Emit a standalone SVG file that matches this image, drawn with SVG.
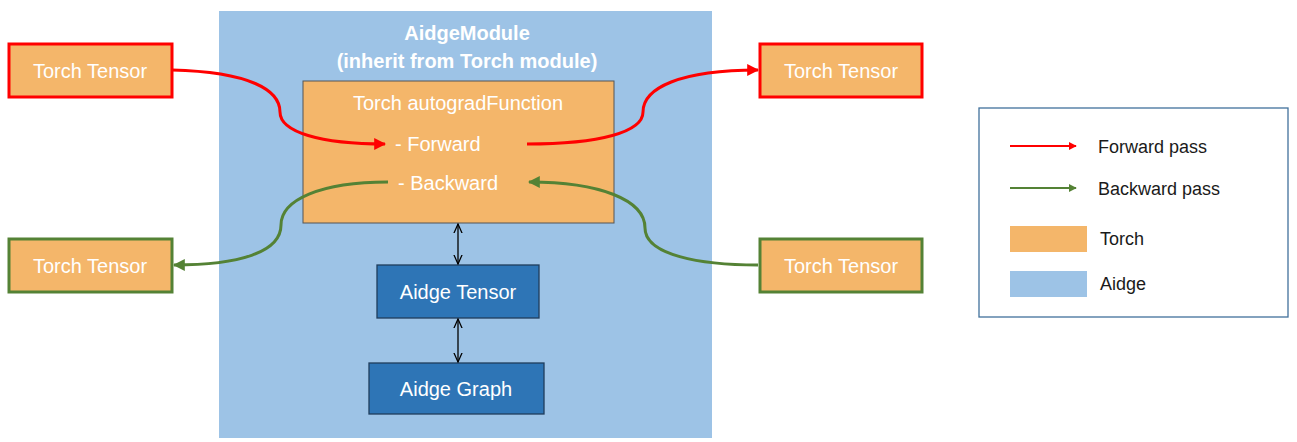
<svg xmlns="http://www.w3.org/2000/svg" width="1297" height="442" viewBox="0 0 1297 442">
<defs>
<style>
text{font-family:"Liberation Sans",Arial,sans-serif}
.w{fill:#fff;font-size:20px}
.b{fill:#1a1a1a;font-size:18px}
.tt{fill:#F4B66A;stroke-width:3}
.fw{fill:none;stroke:#FF0000;stroke-width:3}
.bw{fill:none;stroke:#548235;stroke-width:3}
.blk{fill:none;stroke:#000;stroke-width:1.3}
</style>
<marker id="ar" viewBox="0 0 10 10" refX="9" refY="5" markerWidth="4" markerHeight="4" orient="auto"><path d="M0,0L10,5L0,10z" fill="#FF0000"/></marker>
<marker id="ag" viewBox="0 0 10 10" refX="9" refY="5" markerWidth="4" markerHeight="4" orient="auto"><path d="M0,0L10,5L0,10z" fill="#548235"/></marker>
<marker id="ak" viewBox="0 0 10 10" refX="9" refY="5" markerWidth="8" markerHeight="8" orient="auto-start-reverse"><path d="M0,1L9,5L0,9" fill="none" stroke="#000" stroke-width="1.2"/></marker>
</defs>
<g id="aidgeModule">
<rect x="219" y="11" width="493" height="427" fill="#9DC3E6"/>
<text x="467" y="40" text-anchor="middle" class="w" font-weight="bold">AidgeModule</text>
<text x="467" y="68" text-anchor="middle" class="w" font-weight="bold">(inherit from Torch module)</text>
</g>
<g id="autograd">
<rect x="303" y="81" width="311" height="142" fill="#F4B66A" stroke="#555" stroke-width="1"/>
<text x="458" y="110" text-anchor="middle" class="w">Torch autogradFunction</text>
<text x="395" y="151" class="w">- Forward</text>
<text x="398" y="190" class="w">- Backward</text>
</g>
<g id="tensorInL"><rect x="9" y="44" width="163" height="53" class="tt" stroke="#FF0000"/><text x="90" y="78" text-anchor="middle" class="w">Torch Tensor</text></g>
<g id="tensorOutL"><rect x="9" y="239" width="163" height="53" class="tt" stroke="#548235"/><text x="90" y="273" text-anchor="middle" class="w">Torch Tensor</text></g>
<g id="tensorOutR"><rect x="760" y="44" width="162" height="53" class="tt" stroke="#FF0000"/><text x="841" y="78" text-anchor="middle" class="w">Torch Tensor</text></g>
<g id="tensorInR"><rect x="760" y="239" width="162" height="53" class="tt" stroke="#548235"/><text x="841" y="273" text-anchor="middle" class="w">Torch Tensor</text></g>
<g id="aidgeTensor"><rect x="377" y="265" width="162" height="53" fill="#2E75B6" stroke="#1F3D5C" stroke-width="1.3"/><text x="458" y="299" text-anchor="middle" class="w">Aidge Tensor</text></g>
<g id="aidgeGraph"><rect x="369" y="363" width="175" height="51" fill="#2E75B6" stroke="#1F3D5C" stroke-width="1.3"/><text x="456" y="396" text-anchor="middle" class="w">Aidge Graph</text></g>
<g id="connectors">
<path class="fw" d="M172,70 C250,72 280,90 280,112 C280,132 320,144 385,144" marker-end="url(#ar)"/>
<path class="fw" d="M527,144 C600,144 643,132 643,112 C643,88 680,70 758,70" marker-end="url(#ar)"/>
<path class="bw" d="M388,182 C320,182 281,200 281,225 C281,252 240,265 174,265" marker-end="url(#ag)"/>
<path class="bw" d="M758,265 C700,265 645,255 645,228 C645,200 600,182 529,182" marker-end="url(#ag)"/>
<line class="blk" x1="458" y1="224" x2="458" y2="264" marker-start="url(#ak)" marker-end="url(#ak)"/>
<line class="blk" x1="458" y1="319" x2="458" y2="362" marker-start="url(#ak)" marker-end="url(#ak)"/>
</g>
<g id="legend">
<rect x="979" y="108" width="309" height="209" fill="#fff" stroke="#41719C" stroke-width="1.3"/>
<line x1="1010" y1="146" x2="1076" y2="146" stroke="#FF0000" stroke-width="2" marker-end="url(#ar)"/>
<line x1="1010" y1="188" x2="1076" y2="188" stroke="#548235" stroke-width="2" marker-end="url(#ag)"/>
<text x="1098" y="153" class="b">Forward pass</text>
<text x="1098" y="195" class="b">Backward pass</text>
<rect x="1010" y="226" width="77" height="26" fill="#F4B66A"/>
<rect x="1010" y="271" width="77" height="26" fill="#9DC3E6"/>
<text x="1100" y="245" class="b">Torch</text>
<text x="1100" y="290" class="b">Aidge</text>
</g>
</svg>
